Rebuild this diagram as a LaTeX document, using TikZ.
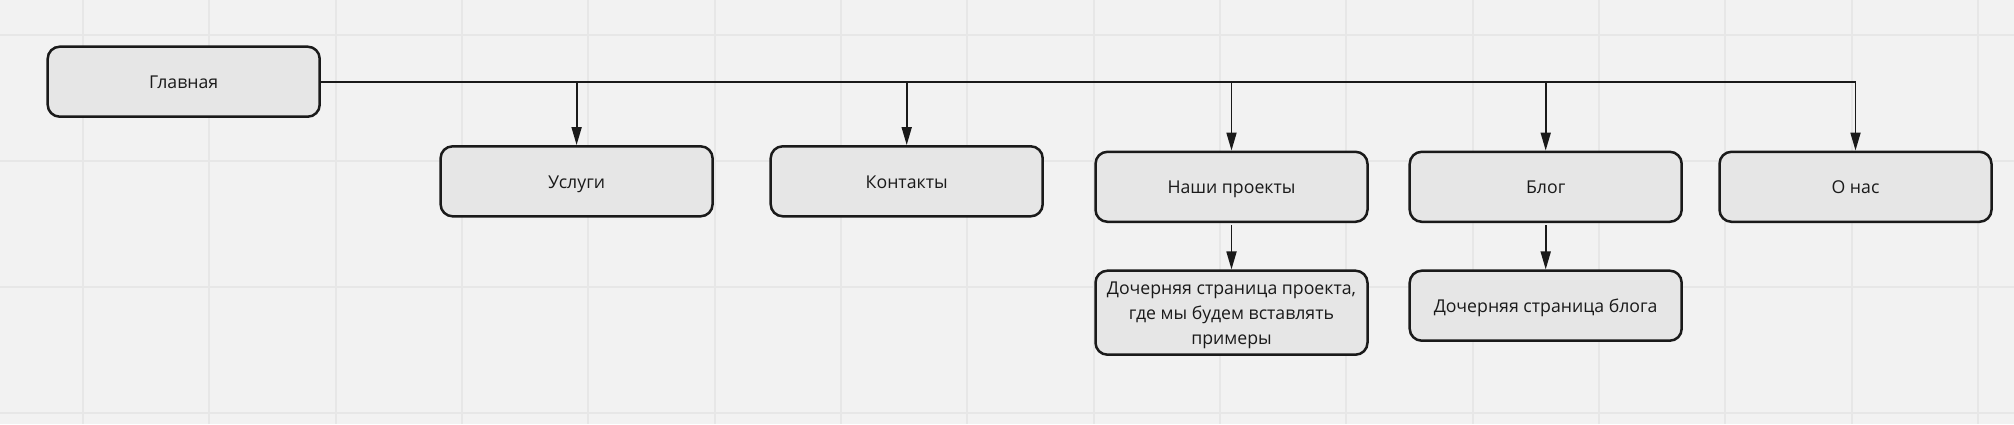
\documentclass[tikz,border=0pt]{standalone}
\usepackage{fontspec}
\setmainfont{Open Sans}
\usetikzlibrary{arrows.meta}
\definecolor{bg}{HTML}{F2F2F2}
\definecolor{gridc}{HTML}{E7E7E7}
\definecolor{boxfill}{HTML}{E6E6E6}
\definecolor{ink}{HTML}{1A1A1A}
\begin{document}
\begin{tikzpicture}[x=1pt,y=-1pt,
  box/.style={draw=ink, fill=boxfill, line width=2.5pt, rounded corners=12pt,
    minimum width=272pt, minimum height=70pt, align=center,
    font=\fontsize{17.7}{25}\selectfont, text=ink, inner sep=0pt,
    text height=13.5pt, text depth=0pt},
  tallbox/.style={box, minimum height=84pt, text height=63.2pt, text depth=0pt},
  gridline/.style={draw=gridc, line width=2pt},
  conn/.style={draw=ink, line width=1.8pt},
  arr/.style={conn, -{Triangle[length=18pt,width=10pt]}}]
\fill[bg] (0,0) rectangle (2014,424);
\useasboundingbox (0,0) rectangle (2014,424);
\foreach \i in {0,...,15} \draw[gridline] ({83+126.33*\i},0) -- ({83+126.33*\i},424);
\foreach \j in {0,...,3} \draw[gridline] (0,{34.7+126.1*\j}) -- (2014,{34.7+126.1*\j});

\node[box] (glav) at (183.7,81.7) {Главная};
\node[box] (usl) at (576.6,181.3) {Услуги};
\node[box] (kont) at (906.7,181.3) {Контакты};
\node[box] (proj) at (1231.5,186.8) {Наши проекты};
\node[tallbox] (projc) at (1231.5,312.7) {Дочерняя страница проекта,\\где мы будем вставлять\\примеры};
\node[box] (blog) at (1545.7,186.8) {Блог};
\node[box] (blogc) at (1545.7,305.7) {Дочерняя страница блога};
\node[box] (onas) at (1855.5,186.8) {О нас};

\draw[arr] (glav.east) -| (onas.north);
\draw[arr] (glav.east -| usl.north) -- (usl.north);
\draw[arr] (glav.east -| kont.north) -- (kont.north);
\draw[arr] (glav.east -| proj.north) -- (proj.north);
\draw[arr] (glav.east -| blog.north) -- (blog.north);
\draw[arr, shorten <=2pt] (proj.south) -- (projc.north);
\draw[arr, shorten <=2pt] (blog.south) -- (blogc.north);
\end{tikzpicture}
\end{document}
